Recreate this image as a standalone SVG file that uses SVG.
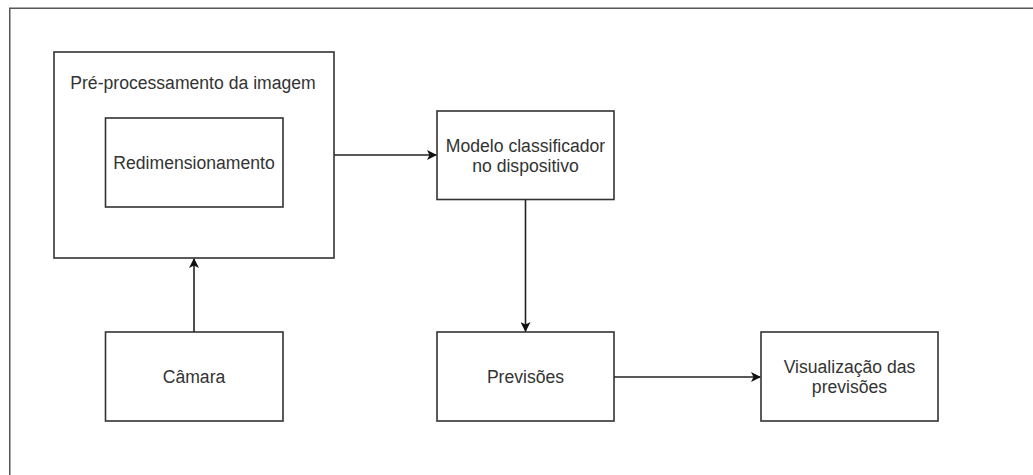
<svg xmlns="http://www.w3.org/2000/svg" width="1033" height="475" viewBox="0 0 1033 475">
<defs>
<style>
.box{fill:#fff;stroke:#333;stroke-width:1.6}
.frame{fill:none;stroke:#555;stroke-width:1.5}
.lbl{font-family:"Liberation Sans",Arial,sans-serif;font-size:17.6px;fill:#333;text-anchor:middle}
.edge{fill:none;stroke:#222;stroke-width:1.6}
</style>
<marker id="arr" viewBox="0 0 10 10" refX="9" refY="5" markerWidth="11" markerHeight="10" markerUnits="userSpaceOnUse" orient="auto">
<path d="M0,0 L10,5 L0,10 L2.5,5 Z" fill="#111"/>
</marker>
</defs>
<rect width="1033" height="475" fill="#fff"/>
<path class="frame" d="M9.75,475 L9.75,8.25 L1033,8.25"/>
<g id="preprocessamento">
<rect class="box" x="54" y="52" width="280" height="206"/>
<text class="lbl" x="193" y="88.5">Pré-processamento da imagem</text>
</g>
<g id="redimensionamento">
<rect class="box" x="105.5" y="118" width="177.5" height="89"/>
<text class="lbl" x="194" y="169">Redimensionamento</text>
</g>
<g id="modelo">
<rect class="box" x="437" y="111" width="177" height="88.5"/>
<text class="lbl" x="525.5" y="151.5">Modelo classificador</text>
<text class="lbl" x="525.5" y="171.5">no dispositivo</text>
</g>
<g id="camara">
<rect class="box" x="105.5" y="332" width="177.5" height="89"/>
<text class="lbl" x="194" y="383">Câmara</text>
</g>
<g id="previsoes">
<rect class="box" x="437" y="332" width="177" height="89"/>
<text class="lbl" x="525.5" y="383">Previsões</text>
</g>
<g id="visualizacao">
<rect class="box" x="761" y="332" width="177" height="89"/>
<text class="lbl" x="849.5" y="373">Visualização das</text>
<text class="lbl" x="849.5" y="393">previsões</text>
</g>
<g id="connectors">
<path class="edge" d="M334,155 L436,155" marker-end="url(#arr)"/>
<path class="edge" d="M525.5,199.5 L525.5,331" marker-end="url(#arr)"/>
<path class="edge" d="M194,332 L194,259" marker-end="url(#arr)"/>
<path class="edge" d="M614,377 L760,377" marker-end="url(#arr)"/>
</g>
</svg>
